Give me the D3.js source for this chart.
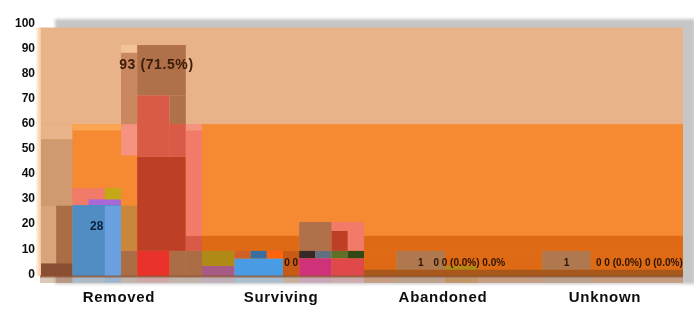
<!DOCTYPE html>
<html><head><meta charset="utf-8">
<script src="https://cdn.jsdelivr.net/npm/d3@7"></script>
<style>html,body{margin:0;padding:0;background:#fff;}svg{display:block;}</style>
</head><body><svg id="chart" width="694" height="327"></svg>
<script>
// ---------------- data ----------------
const categories = ["Removed", "Surviving", "Abandoned", "Unknown"];
const subgroups = ["a","b","c","d","e","f","g","h","i","j"];
const yTicks = [0,10,20,30,40,50,60,70,80,90,100];

// background value zones: [series, lo, hi]
const zones = [["peach", 0, 99], ["orange", 0, 60.5]];

// range bars per category: [series, firstSubgroup, lastSubgroup, lo, hi]
const removedBars = [
  ["tan","a","b",0,54.5], ["peach","a","b",54.5,60.5],
  ["paleTan","a","a",5,28], ["brown","b","b",0,28], ["darkBrown","a","b",0,5],
  ["blue","c","e",0,28.3], ["skyBlue","e","e",0,28], ["salmon","c","d",28.3,35],
  ["olive","e","e",28.3,35], ["violet","d","e",28.3,30.5], ["lightOrange","c","e",58,60.5],
  ["brown","f","f",0,10], ["khaki","f","f",10,28], ["lightSalmon","f","f",48,60.5],
  ["colBrownLight","f","f",60.5,89], ["paleApricot","f","f",89,92],
  ["brightRed","g","h",0,10], ["brown","i","i",0,10], ["darkRed","g","i",10,47.5],
  ["red","g","h",47.5,72], ["red","i","i",47.5,60.5], ["colBrown","i","i",60.5,72],
  ["colBrown","g","i",72,92],
  ["brown","j","j",0,10], ["red","j","j",10,16], ["salmon","j","j",16,58], ["lightSalmon","j","j",58,60.5]
];
const survivingBars = [
  ["darkOrange","a","f",10,16], ["mustard","a","b",4,10], ["plum","a","b",0,4],
  ["blue2","c","e",0,7], ["rust","c","c",7,10], ["steel","d","d",7,10], ["vermilion","e","e",7,10],
  ["burnt","f","f",0,10],
  ["colBrown","g","h",10,21.5], ["charcoal","g","g",7,10], ["slate","h","h",7,10], ["magenta","g","h",0,7],
  ["darkRed","i","i",10,18], ["salmon","i","i",18,21.5], ["salmon","j","j",10,21.5],
  ["moss","i","i",7,10], ["forest","j","j",7,10], ["rose","i","j",0,7]
];
const abandonedBars = [
  ["darkOrange","a","j",10,16], ["darkOrange","a","b",0,10], ["clay","c","e",0,10],
  ["darkOrange","f","j",0,10], ["mustard","f","g",0,4], ["rustBrown","a","j",0,2.5]
];
const unknownBars = [
  ["darkOrange","a","j",10,16], ["darkOrange","a","a",0,10], ["clay","b","d",0,10],
  ["darkOrange","e","j",0,10], ["rustBrown","a","j",0,2.5]
];

// value labels: [category, firstSubgroup, lastSubgroup, value, text, kind]
const valueLabels = [
  ["Removed","f","i",84,"93 (71.5%)","big"],
  ["Removed","c","e",19.5,"28","mid"],
  ["Surviving","f","f",5,"0 0","small"],
  ["Abandoned","d","d",5,"1","small"],
  ["Abandoned","e","i",5,"0 0 (0.0%) 0.0%","small"],
  ["Unknown","c","c",5,"1","small"],
  ["Unknown","e","j",5,"0 0 (0.0%) 0 (0.0%)","small"]
];

const seriesNames = ["peach","orange","lightOrange","darkOrange","tan","paleTan","brown","darkBrown",
  "blue","skyBlue","salmon","olive","violet","khaki","lightSalmon","colBrownLight","paleApricot",
  "brightRed","darkRed","red","colBrown","mustard","plum","blue2","rust","steel","vermilion","burnt",
  "charcoal","slate","magenta","moss","forest","rose","clay","rustBrown"];
const palette = ["#e9b38a","#f58a30","#fba552","#df6a14","#cf9a6f","#d9a47c","#ab6d44","#8a5030",
  "#4f8dc2","#6a9fe0","#f27a68","#c4a816","#a868d8","#c8873e","#f59380","#c98860","#f2c396",
  "#e8302c","#bd4028","#d95a46","#b0704a","#b08a18","#a65a84","#4a9be3","#d06028","#3a6ea0","#ff6410","#c85a14",
  "#352a28","#607080","#d0307a","#607028","#304818","#e04848","#b07850","#a9581f"];

// ---------------- chart ----------------
const svg = d3.select("#chart");
const margin = {left: 40, right: 6, top: 25, bottom: 51};
const W = 694, H = 327;
const x = d3.scaleBand().domain(categories).range([margin.left, W - margin.right]);
const sub = d3.scaleBand().domain(subgroups).range([0, x.bandwidth()]);
const y = d3.scaleLinear().domain([0, 100]).range([H - margin.bottom, margin.top]);
const color = d3.scaleOrdinal(seriesNames, palette);

const defs = svg.append("defs");
defs.append("filter").attr("id","blur").append("feGaussianBlur").attr("stdDeviation", 1.6);
defs.append("filter").attr("id","soft").append("feGaussianBlur").attr("stdDeviation", 0.6);
const lg = defs.append("linearGradient").attr("id","edge").attr("x1","0").attr("x2","1");
lg.append("stop").attr("offset","0").attr("stop-color","#fff4e6");
lg.append("stop").attr("offset","1").attr("stop-color","#f6c89c");

const x0 = x.range()[0], x1 = x.range()[1];

// drop shadow frame
svg.append("rect").attr("x", x0 + 15).attr("y", y(100) - 6)
  .attr("width", x1 - x0 - 8).attr("height", y(0) - y(100) + 14)
  .attr("fill", "#c6c6c6").attr("filter", "url(#blur)");

const plot = svg.append("g").attr("filter", "url(#soft)");

// zones
plot.selectAll("rect.zone").data(zones).join("rect")
  .attr("class","zone")
  .attr("x", x0).attr("width", x1 - x0 - 5)
  .attr("y", d => y(d[2])).attr("height", d => y(d[1]) - y(d[2]))
  .attr("fill", d => color(d[0]));

// bars
const barSets = [["Removed", removedBars], ["Surviving", survivingBars], ["Abandoned", abandonedBars], ["Unknown", unknownBars]];
const allBars = [];
barSets.forEach(([cat, arr]) => arr.forEach(b => allBars.push({cat, s: b[0], f: b[1], l: b[2], lo: b[3], hi: b[4]})));
const bx = d => x(d.cat) + sub(d.f);
const bw = d => Math.min(sub(d.l) + sub.bandwidth() + x(d.cat), x1 - 5) - bx(d);

// faint fringe below the axis
plot.selectAll("rect.fringe").data(allBars.filter(d => d.lo === 0)).join("rect")
  .attr("class","fringe")
  .attr("x", bx).attr("width", bw)
  .attr("y", y(0)).attr("height", 7)
  .attr("fill", d => color(d.s)).attr("opacity", 0.22);

plot.selectAll("rect.bar").data(allBars).join("rect")
  .attr("class","bar")
  .attr("x", bx).attr("width", bw)
  .attr("y", d => y(d.hi)).attr("height", d => y(d.lo) - y(d.hi))
  .attr("fill", d => color(d.s));

// left edge
svg.append("rect").attr("x", x0 - 4).attr("y", y(99)).attr("width", 5)
  .attr("height", y(0) - y(99)).attr("fill", "url(#edge)");

// axis line
svg.append("line").attr("x1", x0).attr("x2", x1 - 5).attr("y1", y(0) + 0.5).attr("y2", y(0) + 0.5)
  .attr("stroke", "#8a4f2a").attr("stroke-width", 2).attr("opacity", 0.75);

// value labels
const fontFam = "'Liberation Sans', Arial, sans-serif";
svg.selectAll("text.val").data(valueLabels).join("text")
  .attr("class","val")
  .attr("x", d => x(d[0]) + (sub(d[1]) + sub(d[2]) + sub.bandwidth()) / 2 + (d[5] === "big" ? 3 : 0))
  .attr("y", d => y(d[3]))
  .attr("text-anchor","middle").attr("dominant-baseline","middle")
  .attr("font-family", fontFam)
  .attr("font-weight","bold")
  .attr("font-size", d => d[5] === "big" ? 14 : d[5] === "mid" ? 12 : 10)
  .attr("letter-spacing", d => d[5] === "big" ? 0.6 : 0)
  .attr("fill", d => d[5] === "big" ? "#3a1c08" : d[5] === "mid" ? "#10203f" : "#2a1406")
  .attr("filter","url(#soft)")
  .text(d => d[4]);

// y tick labels
svg.selectAll("text.ytick").data(yTicks).join("text")
  .attr("class","ytick")
  .attr("x", 35).attr("y", d => y(d) - 1.5)
  .attr("text-anchor","end").attr("dominant-baseline","middle")
  .attr("font-family", fontFam).attr("font-weight","bold").attr("font-size", 12)
  .attr("fill", "#111").attr("filter","url(#soft)")
  .text(d => d);

// category labels
svg.selectAll("text.cat").data(categories).join("text")
  .attr("class","cat")
  .attr("x", d => x(d) + x.bandwidth() / 2 - 2).attr("y", 298)
  .attr("text-anchor","middle").attr("dominant-baseline","middle")
  .attr("font-family", fontFam).attr("font-weight","bold").attr("font-size", 15)
  .attr("letter-spacing", 0.7)
  .attr("fill", "#111").attr("filter","url(#soft)")
  .text(d => d);
</script></body></html>
